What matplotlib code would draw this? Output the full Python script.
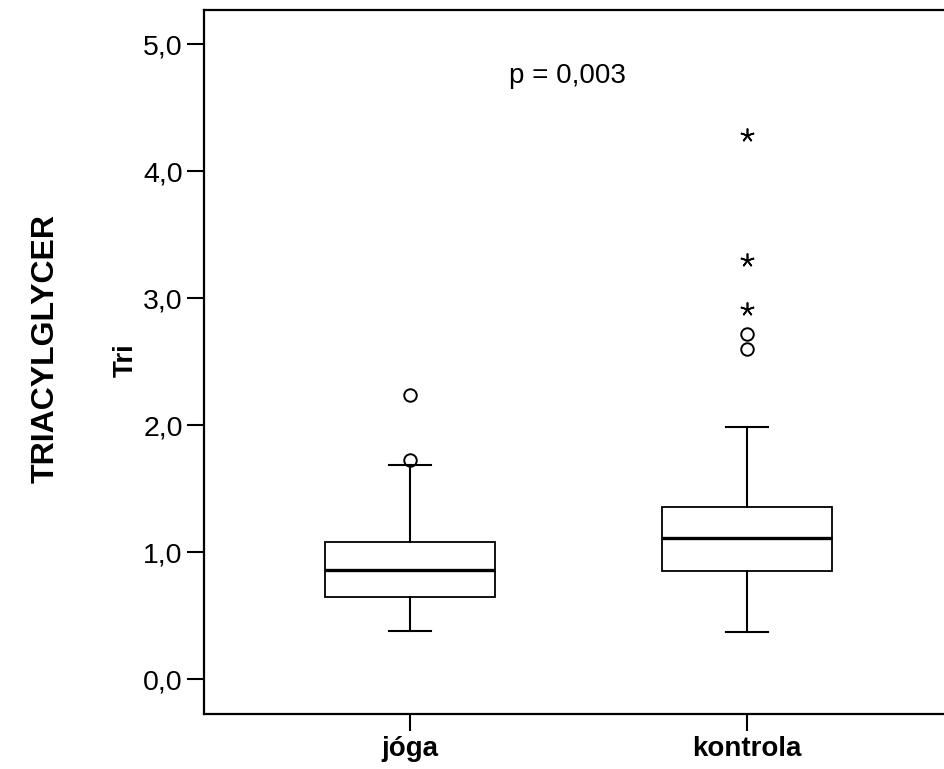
import matplotlib
matplotlib.use("Agg")
import matplotlib.pyplot as plt

# group names and box summary values
groups = ["jóga", "kontrola"]
whisker_low = [0.38, 0.37]
q1 = [0.65, 0.85]
median = [0.86, 1.11]
q3 = [1.08, 1.36]
whisker_high = [1.69, 1.99]
# outliers (circles) and extreme values (stars)
outliers = [[1.73, 2.24], [2.60, 2.72]]
extremes = [[], [2.92, 3.30, 4.29]]

y_ticks = [0.0, 1.0, 2.0, 3.0, 4.0, 5.0]
y_tick_labels = ["0,0", "1,0", "2,0", "3,0", "4,0", "5,0"]

plt.rcParams['font.family'] = ['Liberation Sans', 'DejaVu Sans']

fig = plt.figure(figsize=(9.45, 7.69), dpi=100)
ax = fig.add_axes([0.2162, 0.0715, 0.7838, 0.9151])

stats = []
for i in range(len(groups)):
    stats.append({
        'label': groups[i],
        'whislo': whisker_low[i],
        'q1': q1[i],
        'med': median[i],
        'q3': q3[i],
        'whishi': whisker_high[i],
        'fliers': outliers[i],
    })

ax.bxp(stats, positions=[1, 2], widths=0.505, capwidths=0.125,
       patch_artist=True,
       boxprops=dict(facecolor='white', edgecolor='black', linewidth=1.3),
       medianprops=dict(color='black', linewidth=2.4),
       whiskerprops=dict(color='black', linewidth=1.5),
       capprops=dict(color='black', linewidth=1.5),
       flierprops=dict(marker='o', markerfacecolor='none', markeredgecolor='black',
                       markersize=9, markeredgewidth=1.4))

for i in range(len(groups)):
    if extremes[i]:
        ax.plot([i + 1] * len(extremes[i]), extremes[i], linestyle='none',
                marker=(5, 2, 0), markersize=10, color='black', markeredgewidth=1.2)

ax.text(1.468, 4.695, "p = 0,003", fontsize=20, ha='center', va='baseline')

ax.set_xlim(0.389, 2.589)
ax.set_ylim(-0.273, 5.268)
ax.set_yticks(y_ticks)
ax.set_yticklabels(y_tick_labels, fontsize=20.5)
ax.set_xticks([1, 2])
ax.set_xticklabels(groups, fontsize=20, fontweight='bold')
ax.tick_params(axis='both', direction='out', length=12.5, width=1.5, pad=3)

ax.spines['right'].set_visible(False)
for s in ['left', 'top', 'bottom']:
    ax.spines[s].set_linewidth(1.6)

fig.text(126 / 945, 1 - 360 / 769, "Tri", rotation=90, fontsize=20,
         fontweight='bold', ha='center', va='center')
fig.text(46 / 945, 1 - 349 / 769, "TRIACYLGLYCER", rotation=90, fontsize=23,
         fontweight='bold', ha='center', va='center')

fig.savefig("out.png", dpi=100)
